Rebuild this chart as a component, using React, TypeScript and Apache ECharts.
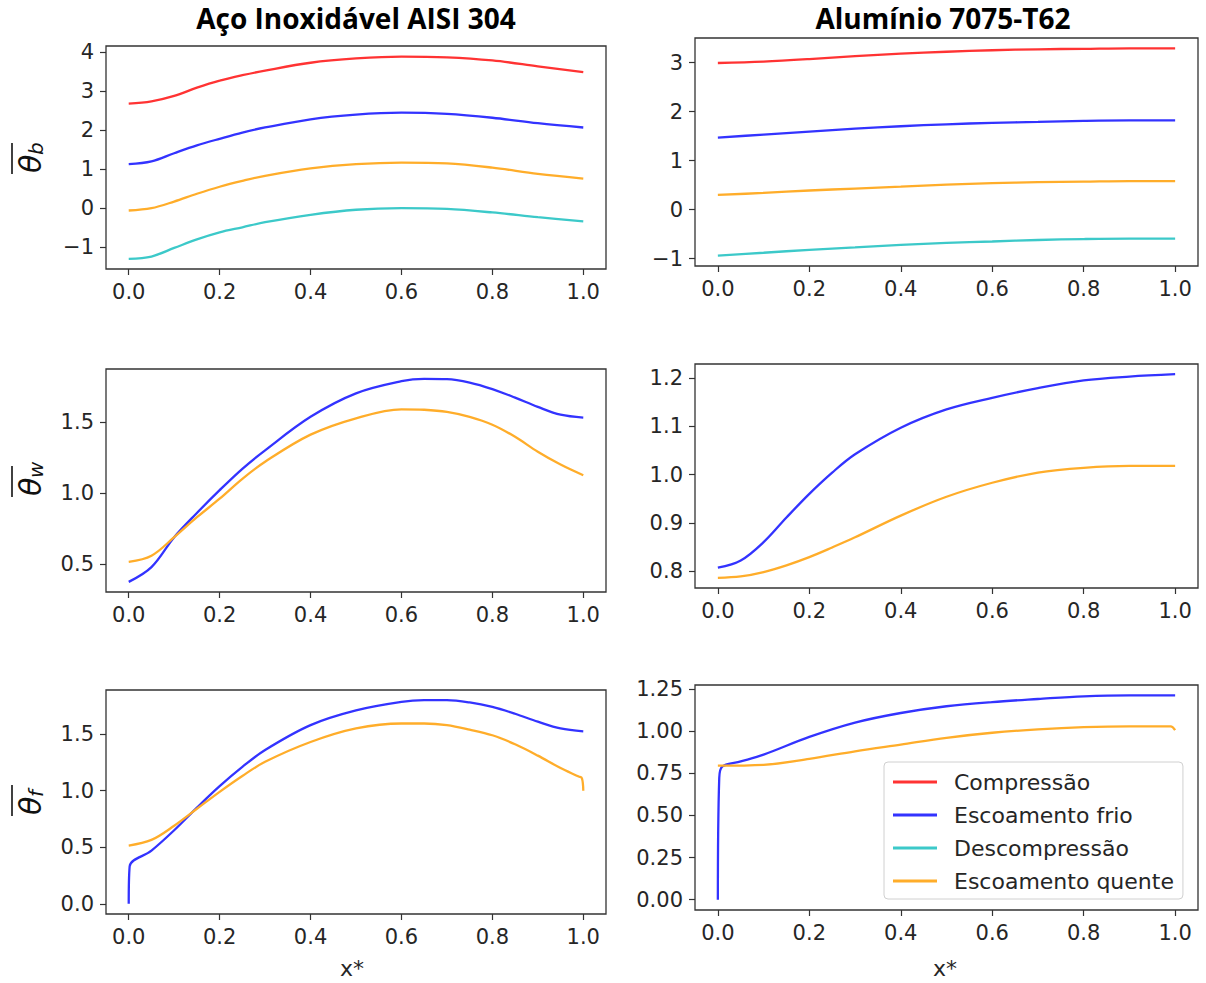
import React, { useEffect, useRef } from "react";
import * as echarts from "echarts";

// ---------- data ----------
const seriesNames = ["Compressão", "Escoamento frio", "Descompressão", "Escoamento quente"];
const colRed = "#ff3333";
const colBlue = "#3333ff";
const colCyan = "#3cc9c9";
const colOrange = "#ffad2a";

const xTicks = [0, 0.2, 0.4, 0.6, 0.8, 1.0];

// Panel 1: steel, theta_b
const p1X = [0, 0.05, 0.1, 0.15, 0.2, 0.25, 0.3, 0.4, 0.5, 0.6, 0.7, 0.8, 0.9, 1.0];
const p1Red = [2.68, 2.74, 2.88, 3.09, 3.27, 3.41, 3.53, 3.73, 3.84, 3.89, 3.87, 3.79, 3.64, 3.49];
const p1Blue = [1.13, 1.2, 1.41, 1.61, 1.78, 1.94, 2.07, 2.28, 2.4, 2.45, 2.42, 2.32, 2.18, 2.07];
const p1Cyan = [-1.3, -1.24, -1.02, -0.8, -0.62, -0.49, -0.36, -0.17, -0.04, 0.0, -0.02, -0.11, -0.23, -0.34];
const p1Orange = [-0.06, 0.0, 0.17, 0.37, 0.55, 0.7, 0.83, 1.02, 1.13, 1.17, 1.15, 1.04, 0.88, 0.76];
const p1YTicks = [-1, 0, 1, 2, 3, 4];

// Panel 2: aluminium, theta_b
const p2X = [0, 0.1, 0.2, 0.3, 0.4, 0.5, 0.6, 0.7, 0.8, 0.9, 1.0];
const p2Red = [2.99, 3.02, 3.07, 3.13, 3.18, 3.22, 3.25, 3.27, 3.28, 3.29, 3.29];
const p2Blue = [1.47, 1.53, 1.59, 1.65, 1.7, 1.74, 1.77, 1.79, 1.81, 1.82, 1.82];
const p2Cyan = [-0.94, -0.88, -0.82, -0.77, -0.72, -0.68, -0.65, -0.62, -0.6, -0.59, -0.59];
const p2Orange = [0.3, 0.34, 0.39, 0.43, 0.47, 0.51, 0.54, 0.56, 0.57, 0.58, 0.58];
const p2YTicks = [-1, 0, 1, 2, 3];

// Panel 3: steel, theta_w
const p3X = [0, 0.05, 0.1, 0.15, 0.2, 0.25, 0.3, 0.4, 0.5, 0.6, 0.65, 0.7, 0.75, 0.8, 0.85, 0.9, 0.95, 1.0];
const p3Blue = [0.376, 0.48, 0.69, 0.86, 1.02, 1.17, 1.3, 1.535, 1.7, 1.785, 1.802, 1.8, 1.776, 1.73, 1.67, 1.605, 1.55, 1.53];
const p3Orange = [0.516, 0.56, 0.69, 0.83, 0.96, 1.1, 1.22, 1.41, 1.525, 1.588, 1.585, 1.57, 1.535, 1.48, 1.395, 1.29, 1.2, 1.125];
const p3YTicks = [0.5, 1.0, 1.5];

// Panel 4: aluminium, theta_w
const p4X = [0, 0.05, 0.1, 0.15, 0.2, 0.25, 0.3, 0.4, 0.5, 0.6, 0.7, 0.8, 0.9, 1.0];
const p4Blue = [0.807, 0.822, 0.86, 0.911, 0.96, 1.004, 1.042, 1.097, 1.135, 1.159, 1.179, 1.195, 1.203, 1.208];
const p4Orange = [0.786, 0.789, 0.798, 0.812, 0.829, 0.849, 0.87, 0.915, 0.954, 0.983, 1.004, 1.014, 1.018, 1.018];
const p4YTicks = [0.8, 0.9, 1.0, 1.1, 1.2];

// Panel 5: steel, theta_f
const p5BlueX = [0, 0.002, 0.05, 0.1, 0.15, 0.2, 0.25, 0.3, 0.4, 0.5, 0.6, 0.65, 0.7, 0.75, 0.8, 0.85, 0.9, 0.95, 1.0];
const p5Blue = [0.0, 0.33, 0.47, 0.65, 0.85, 1.04, 1.21, 1.36, 1.58, 1.71, 1.785, 1.8, 1.8, 1.78, 1.74, 1.68, 1.61, 1.55, 1.525];
const p5OrangeX = [0, 0.05, 0.1, 0.15, 0.2, 0.25, 0.3, 0.4, 0.5, 0.6, 0.65, 0.7, 0.75, 0.8, 0.85, 0.9, 0.95, 0.99, 0.997, 1.0];
const p5Orange = [0.515, 0.565, 0.69, 0.84, 0.99, 1.13, 1.255, 1.43, 1.55, 1.594, 1.594, 1.58, 1.54, 1.49, 1.41, 1.31, 1.2, 1.125, 1.11, 1.0];
const p5YTicks = [0.0, 0.5, 1.0, 1.5];

// Panel 6: aluminium, theta_f
const p6BlueX = [0, 0.003, 0.01, 0.05, 0.1, 0.2, 0.3, 0.4, 0.5, 0.6, 0.7, 0.8, 0.9, 1.0];
const p6Blue = [0.0, 0.72, 0.79, 0.82, 0.86, 0.965, 1.05, 1.107, 1.147, 1.172, 1.19, 1.206, 1.212, 1.212];
const p6OrangeX = [0, 0.1, 0.2, 0.3, 0.4, 0.5, 0.6, 0.7, 0.8, 0.9, 0.99, 1.0];
const p6Orange = [0.795, 0.8, 0.835, 0.88, 0.92, 0.96, 0.99, 1.01, 1.023, 1.028, 1.028, 1.005];
const p6YTicks = [0.0, 0.25, 0.5, 0.75, 1.0, 1.25];

const yRanges: [number, number][] = [
  [-1.56, 4.16],
  [-1.15, 3.5],
  [0.305, 1.871],
  [0.765, 1.229],
  [-0.09, 1.89],
  [-0.061, 1.273],
];
const yTickSets = [p1YTicks, p2YTicks, p3YTicks, p4YTicks, p5YTicks, p6YTicks];
const yDecimals = [0, 0, 1, 1, 1, 2];

const grids = [
  { left: 106, top: 46, width: 500, height: 223 },
  { left: 695, top: 38, width: 503, height: 228 },
  { left: 106, top: 369, width: 500, height: 223 },
  { left: 695, top: 364, width: 503, height: 224 },
  { left: 106, top: 690, width: 500, height: 224 },
  { left: 695, top: 685, width: 503, height: 225 },
];

const zip = (xs: number[], ys: number[]) => xs.map((x, i) => [x, ys[i]]);

const FONT = "DejaVu Sans";
const TXT = "#262626";
const TICK_FS = 21;

function fmt(v: number, d: number) {
  return v.toFixed(d).replace("-", "\u2212");
}

function thetaLabel(cx: number, cy: number, sub: string) {
  return {
    type: "group",
    x: cx,
    y: cy,
    rotation: Math.PI / 2,
    children: [
      {
        type: "text",
        x: -15,
        y: 0,
        style: {
          text: "\u03b8",
          fontSize: 30,
          fontStyle: "italic",
          fontFamily: FONT,
          fill: "#111",
          textAlign: "left",
          textVerticalAlign: "middle",
        },
      },
      {
        type: "text",
        x: 3,
        y: 6,
        style: {
          text: sub,
          fontSize: 20,
          fontStyle: "italic",
          fontFamily: FONT,
          fill: "#111",
          textAlign: "left",
          textVerticalAlign: "middle",
        },
      },
      {
        type: "line",
        shape: { x1: -16, y1: -18, x2: 15, y2: -18 },
        style: { stroke: "#111", lineWidth: 1.6 },
      },
    ],
  };
}

export default function App() {
  const ref = useRef<HTMLDivElement>(null);
  useEffect(() => {
    document.body.style.margin = "0";
    if (!ref.current) return;
    const chart = echarts.init(ref.current, undefined, { renderer: "svg" });

    const xAxis = grids.map((_, i) => ({
      type: "value",
      gridIndex: i,
      min: -0.05,
      max: 1.05,
      position: "bottom",
      axisLine: { show: false, onZero: false },
      splitLine: { show: false },
      axisTick: {
        show: true,
        inside: false,
        length: 6,
        lineStyle: { color: "#333", width: 1.2 },
        customValues: xTicks,
      },
      axisLabel: {
        customValues: xTicks,
        formatter: (v: number) => fmt(v, 1),
        fontSize: TICK_FS,
        fontFamily: FONT,
        color: TXT,
        margin: 12,
      },
    }));

    const yAxis = grids.map((_, i) => ({
      type: "value",
      gridIndex: i,
      min: yRanges[i][0],
      max: yRanges[i][1],
      position: "left",
      axisLine: { show: false, onZero: false },
      splitLine: { show: false },
      axisTick: {
        show: true,
        inside: false,
        length: 6,
        lineStyle: { color: "#333", width: 1.2 },
        customValues: yTickSets[i],
      },
      axisLabel: {
        customValues: yTickSets[i],
        formatter: (v: number) => fmt(v, yDecimals[i]),
        fontSize: TICK_FS,
        fontFamily: FONT,
        color: TXT,
        margin: 12,
      },
    }));

    const mk = (name: string, color: string, gi: number, data: number[][]) => ({
      name,
      type: "line",
      xAxisIndex: gi,
      yAxisIndex: gi,
      data,
      symbol: "none",
      showSymbol: false,
      smooth: 0.35,
      lineStyle: { color, width: 2.3 },
      itemStyle: { color },
      emphasis: { disabled: true },
    });

    const series = [
      mk(seriesNames[0], colRed, 0, zip(p1X, p1Red)),
      mk(seriesNames[1], colBlue, 0, zip(p1X, p1Blue)),
      mk(seriesNames[2], colCyan, 0, zip(p1X, p1Cyan)),
      mk(seriesNames[3], colOrange, 0, zip(p1X, p1Orange)),
      mk(seriesNames[0], colRed, 1, zip(p2X, p2Red)),
      mk(seriesNames[1], colBlue, 1, zip(p2X, p2Blue)),
      mk(seriesNames[2], colCyan, 1, zip(p2X, p2Cyan)),
      mk(seriesNames[3], colOrange, 1, zip(p2X, p2Orange)),
      mk(seriesNames[1], colBlue, 2, zip(p3X, p3Blue)),
      mk(seriesNames[3], colOrange, 2, zip(p3X, p3Orange)),
      mk(seriesNames[1], colBlue, 3, zip(p4X, p4Blue)),
      mk(seriesNames[3], colOrange, 3, zip(p4X, p4Orange)),
      mk(seriesNames[1], colBlue, 4, zip(p5BlueX, p5Blue)),
      mk(seriesNames[3], colOrange, 4, zip(p5OrangeX, p5Orange)),
      mk(seriesNames[1], colBlue, 5, zip(p6BlueX, p6Blue)),
      mk(seriesNames[3], colOrange, 5, zip(p6OrangeX, p6Orange)),
    ];

    const titleStyle = {
      fontSize: 28,
      fontWeight: "bold",
      fontFamily: "Liberation Sans Narrow, Open Sans, sans-serif",
      fill: "#000",
      textAlign: "center",
      textVerticalAlign: "middle",
    };

    chart.setOption({
      animation: false,
      backgroundColor: "#ffffff",
      grid: grids.map((g) => ({
        ...g,
        show: true,
        borderColor: "#333",
        borderWidth: 1.3,
        backgroundColor: "transparent",
        containLabel: false,
      })),
      xAxis,
      yAxis,
      series,
      legend: {
        data: seriesNames,
        orient: "vertical",
        left: 884,
        top: 762,
        backgroundColor: "rgba(255,255,255,0.85)",
        borderColor: "#d0d0d0",
        borderWidth: 1,
        borderRadius: 4,
        padding: [8, 9, 6, 9],
        itemGap: 9,
        itemWidth: 44,
        itemHeight: 3,
        icon: "rect",
        selectedMode: false,
        textStyle: {
          fontSize: 22,
          fontFamily: FONT,
          color: TXT,
          lineHeight: 24,
          padding: [0, 0, 0, 12],
        },
      },
      graphic: [
        { type: "text", x: 356, y: 18, style: { text: "Aço Inoxidável AISI 304", ...titleStyle } },
        { type: "text", x: 943, y: 18, style: { text: "Alumínio 7075-T62", ...titleStyle } },
        {
          type: "text",
          x: 352,
          y: 968,
          style: { text: "x*", fontSize: 22, fontFamily: FONT, fill: TXT, textAlign: "center", textVerticalAlign: "middle" },
        },
        {
          type: "text",
          x: 945,
          y: 968,
          style: { text: "x*", fontSize: 22, fontFamily: FONT, fill: TXT, textAlign: "center", textVerticalAlign: "middle" },
        },
        thetaLabel(30, 158, "b"),
        thetaLabel(30, 481, "w"),
        thetaLabel(30, 800, "f"),
      ],
    });

    return () => chart.dispose();
  }, []);

  return <div ref={ref} style={{ width: 1206, height: 983 }} />;
}
